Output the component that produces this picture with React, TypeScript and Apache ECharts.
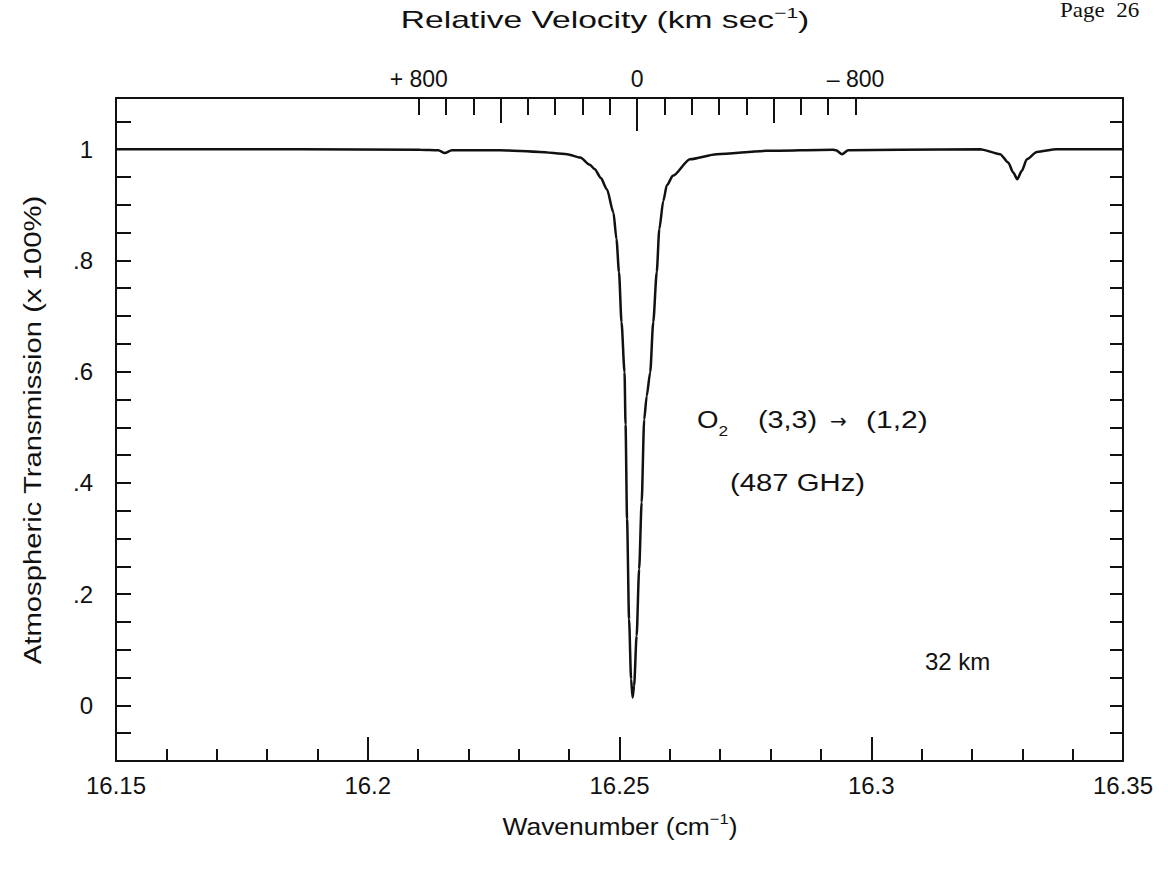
import React, { useEffect, useRef } from "react";
import * as echarts from "echarts";

// Atmospheric transmission near the O2 487 GHz line, 32 km path
const wavenumbers = [
  16.15, 16.1865, 16.2104, 16.214, 16.2153, 16.2167, 16.2203, 16.2263, 16.2342,
  16.2396, 16.2422, 16.2441, 16.2451, 16.2463, 16.2475, 16.2488, 16.2494, 16.2499,
  16.2504, 16.251, 16.2512, 16.2515, 16.2519, 16.2523, 16.2526, 16.2529, 16.2534,
  16.2539, 16.2544, 16.2549, 16.2554, 16.2561, 16.2567, 16.2574, 16.2579, 16.2587,
  16.2594, 16.2606, 16.264, 16.2693, 16.2792, 16.2924, 16.293, 16.2942, 16.2954,
  16.3057, 16.3216, 16.3256, 16.3272, 16.3282, 16.329, 16.3299, 16.3309, 16.3329,
  16.3368, 16.35,
];
const transmission = [
  1.0, 1.0, 0.999, 0.998, 0.993, 0.998, 0.998, 0.998, 0.995,
  0.991, 0.985, 0.972, 0.964, 0.948, 0.928, 0.886, 0.838, 0.779,
  0.689, 0.599, 0.505, 0.335, 0.155, 0.047, 0.014, 0.035, 0.125,
  0.245, 0.365, 0.514, 0.556, 0.599, 0.689, 0.779, 0.856, 0.907,
  0.935, 0.952, 0.982, 0.991, 0.997, 0.999, 0.998, 0.991, 0.998,
  0.999, 1.0, 0.991, 0.976, 0.958, 0.946, 0.961, 0.982, 0.995,
  1.0, 1.0,
];

// Axis labels and ticks
const xLabelValues = [16.15, 16.2, 16.25, 16.3, 16.35];
const yLabelValues = [0, 0.2, 0.4, 0.6, 0.8, 1];
const velocityTicks = [
  -800, -700, -600, -500, -400, -300, -200, -100, 0, 100, 200, 300, 400, 500, 600, 700, 800,
];
const velocityLongTicks = [-500, 500];
const velocityCenterTick = [0];
const velocityLabelValues = [-800, 0, 800];

// Rest wavenumber of the line (zero relative velocity), cm^-1
const REST_WAVENUMBER = 16.2535;
const C_KMS = 299792.458;
const X_MIN = 16.15;
const X_MAX = 16.35;
const Y_MIN = -0.1;
const Y_MAX = 1.092;

const velocityOf = (nu: number) => (C_KMS * (REST_WAVENUMBER - nu)) / REST_WAVENUMBER;

const FONT = "Liberation Sans";
const INK = "#111";

const label = (
  text: string,
  x: number,
  y: number,
  opts: {
    size?: number;
    scaleX?: number;
    align?: string;
    rotation?: number;
    rich?: any;
    font?: string;
  } = {}
) => ({
  type: "text",
  x,
  y,
  scaleX: opts.scaleX ?? 1,
  rotation: opts.rotation ?? 0,
  style: {
    text,
    fontFamily: opts.font ?? FONT,
    fontSize: opts.size ?? 24,
    fill: INK,
    align: opts.align ?? "left",
    verticalAlign: "middle",
    rich: opts.rich,
  },
});

const supRich = {
  sup: { fontFamily: FONT, fontSize: 15, verticalAlign: "top", lineHeight: 30, fill: INK },
};

export default function App() {
  const ref = useRef<HTMLDivElement>(null);

  useEffect(() => {
    if (!ref.current) return;
    const chart = echarts.init(ref.current, undefined, { renderer: "svg" });

    const velMin = velocityOf(X_MAX);
    const velMax = velocityOf(X_MIN);

    const topAxis = (ticks: number[], len: number, withLine: boolean, withLabels: boolean) => ({
      type: "value",
      position: "top",
      min: velMin,
      max: velMax,
      inverse: true,
      axisLine: { show: withLine, onZero: false, lineStyle: { color: INK, width: 2 } },
      axisTick: {
        show: true,
        inside: true,
        length: len,
        customValues: ticks,
        lineStyle: { color: INK, width: 2 },
      },
      axisLabel: withLabels
        ? {
            show: true,
            customValues: velocityLabelValues,
            margin: 8,
            color: INK,
            fontFamily: FONT,
            fontSize: 23,
            formatter: (v: number) =>
              v > 0 ? "+ " + Math.round(v) : v < 0 ? "– " + Math.round(-v) : "0",
          }
        : { show: false },
      splitLine: { show: false },
    });

    chart.setOption({
      animation: false,
      backgroundColor: "#fff",
      grid: { left: 116, top: 98, width: 1007, height: 663, containLabel: false },
      xAxis: [
        {
          type: "value",
          position: "bottom",
          min: X_MIN,
          max: X_MAX,
          interval: 0.05,
          axisLine: { show: true, onZero: false, lineStyle: { color: INK, width: 2 } },
          axisTick: { show: true, inside: true, length: 24, lineStyle: { color: INK, width: 2 } },
          minorTick: { show: true, splitNumber: 5, length: 12, lineStyle: { color: INK, width: 2 } },
          axisLabel: {
            show: true,
            customValues: xLabelValues,
            margin: 12,
            color: INK,
            fontFamily: FONT,
            fontSize: 24,
            formatter: (v: number) => String(+v.toFixed(2)),
          },
          splitLine: { show: false },
        },
        topAxis(velocityTicks, 17, true, true),
        topAxis(velocityLongTicks, 25, false, false),
        topAxis(velocityCenterTick, 33, false, false),
      ],
      yAxis: [
        {
          type: "value",
          position: "left",
          min: Y_MIN,
          max: Y_MAX,
          interval: 0.05,
          axisLine: { show: true, onZero: false, lineStyle: { color: INK, width: 2 } },
          axisTick: { show: true, inside: true, length: 15, lineStyle: { color: INK, width: 2 } },
          axisLabel: {
            show: true,
            customValues: yLabelValues,
            margin: 23,
            color: INK,
            fontFamily: FONT,
            fontSize: 24,
            formatter: (v: number) => {
              const r = Math.round(v * 10) / 10;
              if (r === 0) return "0";
              if (r === 1) return "1";
              return "." + Math.round(r * 10);
            },
          },
          splitLine: { show: false },
        },
        {
          type: "value",
          position: "right",
          min: Y_MIN,
          max: Y_MAX,
          interval: 0.05,
          axisLine: { show: true, onZero: false, lineStyle: { color: INK, width: 2 } },
          axisTick: { show: true, inside: true, length: 13, lineStyle: { color: INK, width: 2 } },
          axisLabel: { show: false },
          splitLine: { show: false },
        },
      ],
      series: [
        {
          type: "line",
          xAxisIndex: 0,
          yAxisIndex: 0,
          data: wavenumbers.map((w, i) => [w, transmission[i]]),
          showSymbol: false,
          smooth: 0.25,
          smoothMonotone: "x",
          lineStyle: { color: INK, width: 2.5 },
        },
      ],
      graphic: [
        {
          type: "text",
          x: 1060,
          y: 0,
          scaleX: 1.15,
          style: {
            text: "Page  26",
            fontFamily: "Liberation Serif",
            fontSize: 20,
            fill: INK,
            align: "left",
            verticalAlign: "top",
          },
        },
        label("Relative Velocity (km sec{sup|−1})", 605, 20, {
          align: "center",
          size: 24,
          scaleX: 1.4,
          rich: supRich,
        }),
        label("Wavenumber (cm{sup|−1})", 620, 826, {
          align: "center",
          size: 24,
          scaleX: 1.1,
          rich: supRich,
        }),
        label("Atmospheric Transmission (x 100%)", 33, 430, {
          align: "center",
          size: 24,
          scaleX: 1.22,
          rotation: Math.PI / 2,
        }),
        label("O{sub|2}", 697, 420, {
          size: 24,
          scaleX: 1.15,
          rich: {
            sub: { fontFamily: FONT, fontSize: 15, verticalAlign: "bottom", lineHeight: 36, fill: INK },
          },
        }),
        label("(3,3)", 758, 420, { size: 24, scaleX: 1.2 }),
        label("→", 830, 421, { size: 20, font: "DejaVu Sans" }),
        label("(1,2)", 866, 420, { size: 24, scaleX: 1.25 }),
        label("(487 GHz)", 730, 483, { size: 24, scaleX: 1.22 }),
        label("32 km", 925, 661, { size: 24, scaleX: 1.0 }),
      ],
    });

    return () => chart.dispose();
  }, []);

  return (
    <div
      ref={ref}
      style={{ position: "absolute", left: 0, top: 0, width: 1168, height: 872, background: "#fff" }}
    />
  );
}
